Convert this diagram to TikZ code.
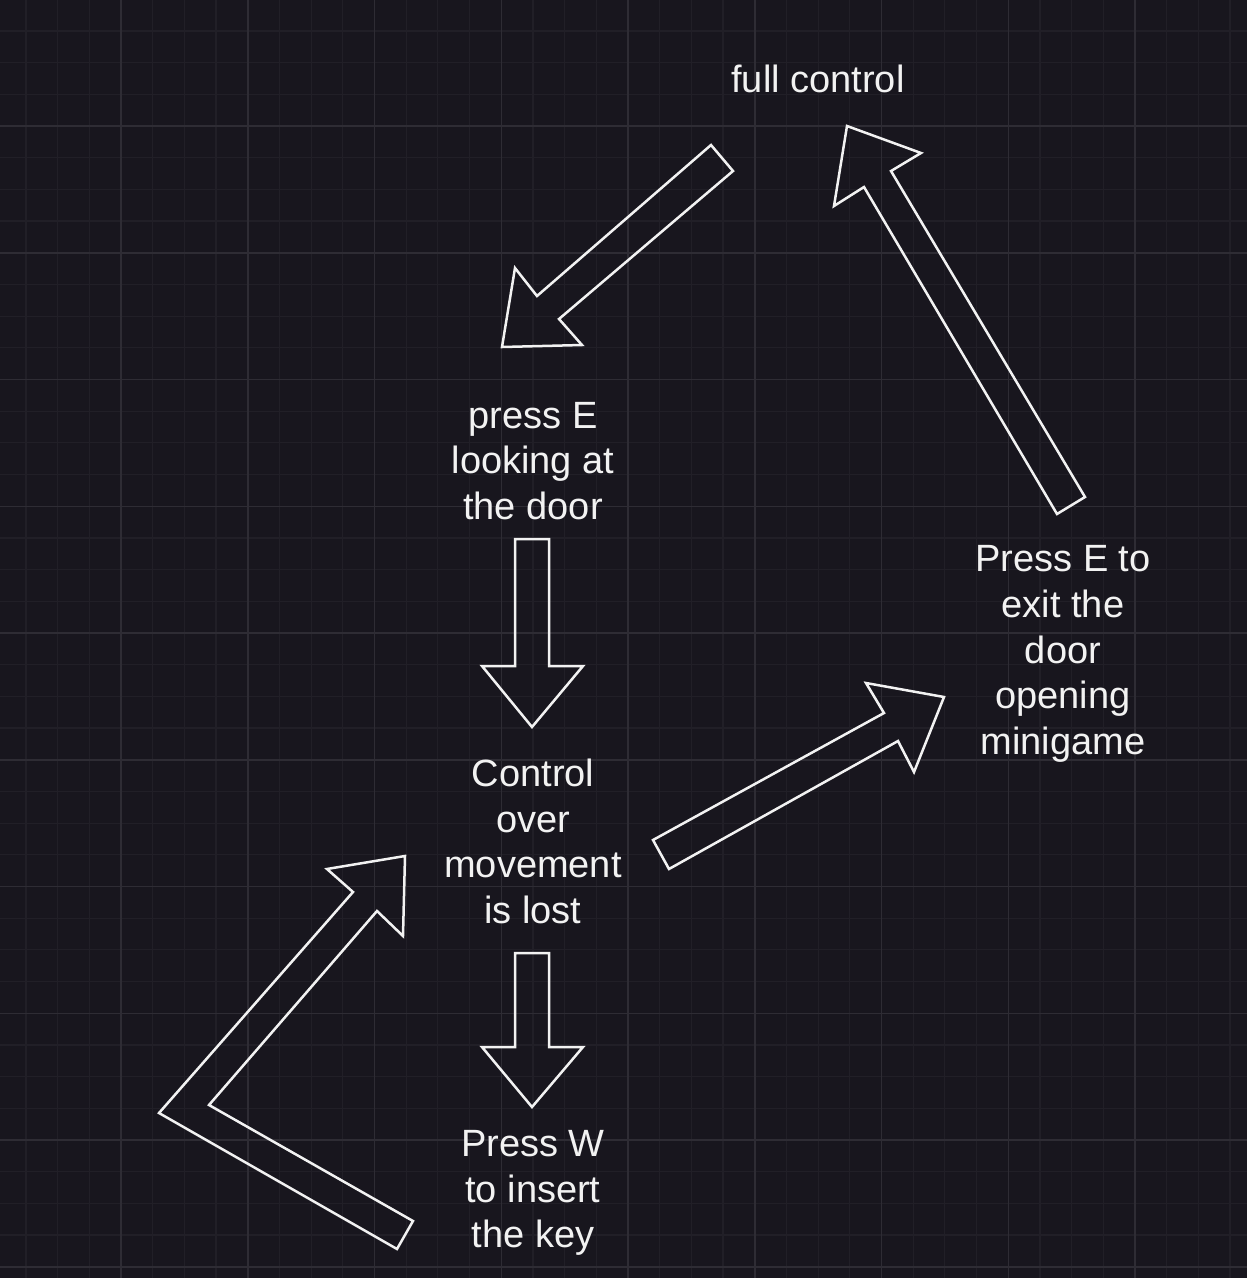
\documentclass[tikz,border=0pt]{standalone}
\usepackage{fontspec}
\setmainfont{Liberation Sans}
\definecolor{bg}{RGB}{24,22,30}
\definecolor{gminor}{RGB}{33,31,39}
\definecolor{gmajor}{RGB}{46,44,52}
\definecolor{ink}{RGB}{242,242,242}
\begin{document}
\begin{tikzpicture}[x=1pt,y=-1pt,
  lbl/.style={text=ink, align=center, font=\fontsize{38}{45.6}\selectfont, inner sep=0pt},
  blockarrow/.style={draw=ink, line width=2.5pt, line join=miter},
  minorline/.style={draw=gminor, line width=1.2pt},
  majorline/.style={draw=gmajor, line width=1.5pt}]
\fill[bg] (0,0) rectangle (1247,1278);
\useasboundingbox (0,0) rectangle (1247,1278);
% grid
\foreach \i in {0,...,40} {
  \pgfmathsetmacro\xx{-5.75+\i*31.6875}
  \pgfmathsetmacro\yy{-0.75+\i*31.6875}
  \draw[minorline] (\xx,0) -- (\xx,1278);
  \draw[minorline] (0,\yy) -- (1247,\yy);
}
\foreach \i in {0,...,10} {
  \pgfmathsetmacro\xx{-5.75+\i*126.75}
  \pgfmathsetmacro\yy{-0.75+\i*126.75}
  \draw[majorline] (\xx,0) -- (\xx,1278);
  \draw[majorline] (0,\yy) -- (1247,\yy);
}
% labels
\node[lbl] (full) at (818,83) {\strut full control};
\node[lbl] (pressE) at (533,464.5) {\strut press E\\\strut looking at\\\strut the door};
\node[lbl] (lost) at (533,846) {\strut Control\\\strut over\\\strut movement\\\strut is lost};
\node[lbl] (pressW) at (533,1193) {\strut Press W\\\strut to insert\\\strut the key};
\node[lbl] (exitE) at (1063,654) {\strut Press E to\\\strut exit the\\\strut door\\\strut opening\\\strut minigame};
% block arrows
% full control -> press E
\draw[blockarrow] (711,145) -- (733,171) -- (559,319) -- (582,345) -- (502,347) -- (515,268) -- (537,296) -- cycle;
% press E -> control lost
\draw[blockarrow] (515,539) -- (549,539) -- (549,666) -- (583,666) -- (532,727) -- (482,666) -- (515,666) -- cycle;
% control lost -> press W
\draw[blockarrow] (515,953) -- (549,953) -- (549,1047) -- (583,1047) -- (532,1107) -- (482,1047) -- (515,1047) -- cycle;
% press W -> control lost (bent)
\draw[blockarrow] (397,1249) -- (413,1221) -- (209,1105) -- (377,911) -- (403,936) -- (405,856) -- (327,869) -- (353,892) -- (159,1113) -- cycle;
% control lost -> exit
\draw[blockarrow] (653,840) -- (669,869) -- (898,741) -- (914,772) -- (944,697) -- (866,683) -- (884,713) -- cycle;
% exit -> full control
\draw[blockarrow] (1057,514) -- (1085,497) -- (891,171) -- (921,153) -- (847,126) -- (834,206) -- (864,187) -- cycle;
\end{tikzpicture}
\end{document}
